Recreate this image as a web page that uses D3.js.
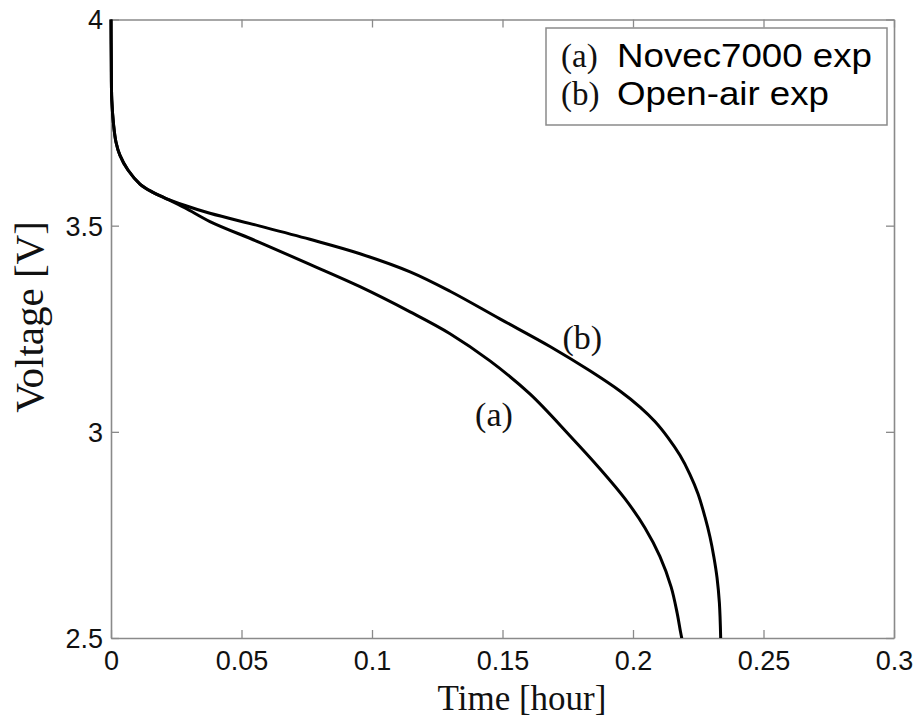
<!DOCTYPE html>
<html>
<head>
<meta charset="utf-8">
<script src="https://cdn.jsdelivr.net/npm/d3@7"></script>
<style>
  html, body { margin: 0; padding: 0; background: #fff; }
  svg { display: block; }
</style>
</head>
<body>
<svg id="chart" width="915" height="718"></svg>
<script>
// ---- data (time in hours, voltage in V) ----
const timeA = [0, 0.0001, 0.0003, 0.0010, 0.0019, 0.0034, 0.0065, 0.0111, 0.0157, 0.0207, 0.0284, 0.0379, 0.0571, 0.0762, 0.0954, 0.1146, 0.1299, 0.1452, 0.1605, 0.1759, 0.1874, 0.1969, 0.2046, 0.2103, 0.2146, 0.2169, 0.2182, 0.2187];
const voltA = [4.0, 3.902, 3.805, 3.744, 3.703, 3.671, 3.635, 3.601, 3.582, 3.567, 3.543, 3.510, 3.459, 3.406, 3.352, 3.291, 3.238, 3.172, 3.092, 2.990, 2.910, 2.838, 2.767, 2.698, 2.624, 2.561, 2.515, 2.499];
const timeB = [0, 0.0001, 0.0003, 0.0010, 0.0019, 0.0034, 0.0065, 0.0111, 0.0157, 0.0207, 0.0284, 0.0379, 0.0571, 0.0762, 0.0954, 0.1146, 0.1299, 0.1490, 0.1682, 0.1835, 0.1950, 0.2027, 0.2084, 0.2134, 0.2180, 0.2218, 0.2249, 0.2276, 0.2295, 0.2310, 0.2322, 0.2331, 0.2336];
const voltB = [4.0, 3.902, 3.805, 3.744, 3.703, 3.671, 3.635, 3.601, 3.582, 3.567, 3.549, 3.530, 3.499, 3.467, 3.432, 3.388, 3.341, 3.274, 3.207, 3.148, 3.099, 3.060, 3.025, 2.986, 2.943, 2.897, 2.850, 2.793, 2.745, 2.696, 2.646, 2.585, 2.499];
const xTicks = [0, 0.05, 0.1, 0.15, 0.2, 0.25, 0.3];
const xTickLabels = ["0", "0.05", "0.1", "0.15", "0.2", "0.25", "0.3"];
const yTicks = [2.5, 3, 3.5, 4];
const yTickLabels = ["2.5", "3", "3.5", "4"];
const legendKeys = ["(a)", "(b)"];
const legendLabels = ["Novec7000 exp", "Open-air exp"];
const curveLabels = ["(a)", "(b)"];
const curveLabelPos = [[0.1395, 3.015], [0.1730, 3.20]];

// ---- layout ----
const svg = d3.select("#chart");
const L = 111, R = 894, T = 19.5, B = 638;
const x = d3.scaleLinear().domain([0, 0.3]).range([L, R]);
const y = d3.scaleLinear().domain([2.5, 4]).range([B, T]);
const axisColor = "#8a8a8a";
const sans = "'Liberation Sans', Arial, Helvetica, sans-serif";
const serif = "'Liberation Serif', 'Times New Roman', serif";

// bottom axis
const gB = svg.append("g").attr("transform", `translate(0,${B})`)
  .call(d3.axisBottom(x).tickValues(xTicks).tickFormat((d, i) => xTickLabels[i]).tickSizeInner(-8).tickSizeOuter(0).tickPadding(20));
// top axis
const gT = svg.append("g").attr("transform", `translate(0,${T})`)
  .call(d3.axisTop(x).tickValues(xTicks).tickFormat("").tickSizeInner(-8).tickSizeOuter(0));
// left axis
const gL = svg.append("g").attr("transform", `translate(${L},0)`)
  .call(d3.axisLeft(y).tickValues(yTicks).tickFormat((d, i) => yTickLabels[i]).tickSizeInner(-8).tickSizeOuter(0).tickPadding(16));
// right axis
const gR = svg.append("g").attr("transform", `translate(${R},0)`)
  .call(d3.axisRight(y).tickValues(yTicks).tickFormat("").tickSizeInner(-8).tickSizeOuter(0));

[gB, gT, gL, gR].forEach(g => {
  g.select(".domain").attr("stroke", axisColor).attr("stroke-width", 1.6);
  g.selectAll(".tick line").attr("stroke", axisColor).attr("stroke-width", 1.3);
  g.selectAll(".tick text").attr("fill", "#111").style("font-family", sans).style("font-size", "27px");
});
gB.selectAll(".tick text").attr("dy", "0.71em").attr("y", 13);
gL.selectAll(".tick text").attr("dy", "0.35em").attr("x", -8);

// lines
const line = d3.line().x(d => x(d[0])).y(d => y(d[1])).curve(d3.curveCatmullRom.alpha(0.5));
const seriesA = timeA.map((t, i) => [t, voltA[i]]);
const seriesB = timeB.map((t, i) => [t, voltB[i]]);
svg.append("defs").append("clipPath").attr("id", "clip")
  .append("rect").attr("x", L - 2).attr("y", T - 1).attr("width", R - L + 4).attr("height", B - T + 1);
const gLines = svg.append("g").attr("clip-path", "url(#clip)");
[seriesA, seriesB].forEach(s => {
  gLines.append("path").datum(s).attr("d", line)
    .attr("fill", "none").attr("stroke", "#000").attr("stroke-width", 3)
    .attr("stroke-linejoin", "round").attr("stroke-linecap", "butt");
});

// curve labels
curveLabels.forEach((lab, i) => {
  svg.append("text").attr("x", x(curveLabelPos[i][0])).attr("y", y(curveLabelPos[i][1]))
    .text(lab).style("font-family", serif).style("font-size", "34px").attr("fill", "#111");
});

// legend
const legendTextLen = [255, 212];
svg.append("rect").attr("x", 546).attr("y", 28).attr("width", 341).attr("height", 97)
  .attr("fill", "#fff").attr("stroke", axisColor).attr("stroke-width", 1.5);
legendKeys.forEach((k, i) => {
  const by = 67 + i * 37.5;
  svg.append("text").attr("x", 561).attr("y", by).text(k)
    .style("font-family", serif).style("font-size", "33px").attr("fill", "#111");
  svg.append("text").attr("x", 617).attr("y", by).text(legendLabels[i])
    .attr("textLength", legendTextLen[i]).attr("lengthAdjust", "spacingAndGlyphs")
    .style("font-family", sans).style("font-size", "34px").attr("fill", "#000");
});

// axis titles
svg.append("text").attr("x", 522).attr("y", 710).attr("text-anchor", "middle")
  .text("Time [hour]").style("font-family", serif).style("font-size", "35px").attr("fill", "#111");
svg.append("text").attr("transform", "translate(43,317) rotate(-90)").attr("text-anchor", "middle")
  .text("Voltage [V]").style("font-family", serif).style("font-size", "41px").attr("fill", "#111");
</script>
</body>
</html>
